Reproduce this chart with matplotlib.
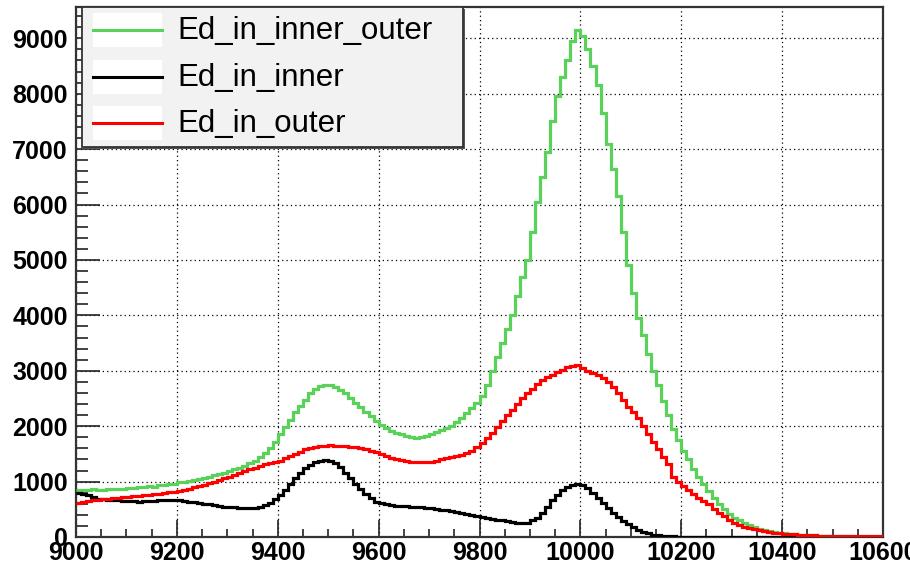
import numpy as np
import matplotlib
matplotlib.use("Agg")
import matplotlib.pyplot as plt
from matplotlib.patches import Rectangle
from matplotlib.lines import Line2D
from matplotlib.ticker import MultipleLocator

# ---- data: histogram bins (10 units wide, from 9000 to 10600) ----
bin_lo = 9000
bin_width = 10

inner_outer = [
    840, 850, 845, 860, 850, 855, 865, 860, 875, 870,
    890, 885, 900, 905, 915, 910, 930, 940, 950, 965,
    990, 1000, 1010, 1030, 1045, 1070, 1085, 1110, 1130, 1160,
    1190, 1220, 1250, 1290, 1330, 1380, 1440, 1520, 1600, 1720,
    1850, 1990, 2120, 2260, 2370, 2480, 2590, 2680, 2720, 2750,
    2740, 2710, 2660, 2590, 2500, 2420, 2340, 2260, 2180, 2090,
    2020, 1960, 1910, 1870, 1850, 1820, 1800, 1790, 1800, 1820,
    1860, 1890, 1930, 1970, 2010, 2070, 2140, 2230, 2320, 2420,
    2550, 2750, 3000, 3250, 3500, 3750, 4000, 4350, 4700, 5000,
    5500, 6050, 6500, 6950, 7500, 7950, 8300, 8600, 8950, 9150,
    9050, 8800, 8500, 8150, 7650, 7100, 6650, 6150, 5500, 4900,
    4400, 3950, 3650, 3300, 3000, 2750, 2450, 2200, 1950, 1750,
    1560, 1400, 1230, 1080, 950, 830, 710, 600, 500, 410,
    350, 300, 250, 210, 180, 150, 130, 110, 95, 80,
    70, 60, 50, 45, 40, 35, 30, 25, 22, 20,
    18, 15, 12, 10, 8, 7, 6, 5, 4, 3,
]

inner = [
    790, 770, 750, 720, 690, 680, 675, 665, 660, 655,
    650, 645, 640, 645, 650, 655, 660, 665, 668, 668,
    665, 655, 640, 625, 610, 600, 590, 575, 560, 550,
    548, 540, 530, 525, 520, 525, 545, 575, 620, 680,
    760, 850, 960, 1060, 1160, 1240, 1300, 1350, 1380, 1390,
    1370, 1330, 1260, 1160, 1060, 960, 860, 770, 700, 630,
    610, 590, 575, 565, 560, 555, 550, 545, 535, 525,
    515, 505, 495, 480, 465, 450, 435, 420, 400, 385,
    360, 345, 330, 315, 300, 285, 270, 260, 255, 258,
    300, 350, 440, 550, 660, 760, 850, 910, 940, 960,
    930, 880, 800, 710, 620, 530, 440, 360, 290, 230,
    175, 130, 95, 65, 45, 30, 20, 15, 10, 8,
    6, 5, 4, 3, 3, 2, 2, 1, 1, 1,
    0, 0, 0, 0, 0, 0, 0, 0, 0, 0,
    0, 0, 0, 0, 0, 0, 0, 0, 0, 0,
    0, 0, 0, 0, 0, 0, 0, 0, 0, 0,
]

outer = [
    610, 630, 650, 660, 670, 680, 690, 700, 705, 715,
    725, 735, 745, 755, 765, 775, 785, 795, 805, 815,
    830, 850, 870, 895, 920, 945, 975, 1000, 1030, 1060,
    1090, 1120, 1150, 1185, 1220, 1250, 1280, 1310, 1340, 1360,
    1380, 1420, 1460, 1500, 1540, 1580, 1610, 1630, 1650, 1650,
    1655, 1650, 1645, 1640, 1630, 1620, 1610, 1590, 1560, 1530,
    1490, 1460, 1430, 1410, 1390, 1370, 1355, 1350, 1345, 1350,
    1360, 1380, 1400, 1420, 1440, 1460, 1480, 1510, 1560, 1620,
    1690, 1780, 1880, 1990, 2100, 2200, 2300, 2400, 2500, 2590,
    2680, 2760, 2830, 2880, 2930, 2980, 3020, 3060, 3080, 3100,
    3050, 3000, 2960, 2920, 2870, 2800, 2700, 2600, 2480, 2350,
    2250, 2150, 2000, 1860, 1720, 1580, 1450, 1320, 1080, 990,
    920, 850, 780, 710, 650, 590, 510, 440, 370, 300,
    250, 215, 185, 160, 140, 120, 105, 90, 80, 70,
    62, 55, 48, 42, 38, 34, 30, 27, 25, 23,
    21, 19, 18, 16, 15, 14, 13, 12, 11, 10,
]

series_names = ["Ed_in_inner_outer", "Ed_in_inner", "Ed_in_outer"]
series_values = [inner_outer, inner, outer]
series_colors = ["#5ad25a", "#000000", "#ff0000"]

x_ticks = [9000, 9200, 9400, 9600, 9800, 10000, 10200, 10400, 10600]
y_ticks = [0, 1000, 2000, 3000, 4000, 5000, 6000, 7000, 8000, 9000]

# ---- figure ----
W, H = 910, 570
fig = plt.figure(figsize=(W / 100, H / 100), dpi=100)
plt.rcParams['font.family'] = ['Liberation Sans', 'DejaVu Sans']

L, R, T, B = 76, 883, 7, 537
ax = fig.add_axes([L / W, (H - B) / H, (R - L) / W, (B - T) / H])

n = len(inner_outer)
edges = bin_lo + bin_width * np.arange(n + 1)
for vals, col in zip(series_values, series_colors):
    ax.stairs(vals, edges, color=col, linewidth=2.3, baseline=None, zorder=3)

ax.set_xlim(9000, 10600)
ax.set_ylim(0, 9565)
ax.set_xticks(x_ticks)
ax.set_yticks(y_ticks)
ax.set_xticklabels([str(v) for v in x_ticks])
ax.set_yticklabels([str(v) for v in y_ticks])
ax.xaxis.set_minor_locator(MultipleLocator(50))
ax.yaxis.set_minor_locator(MultipleLocator(200))

ax.tick_params(axis='y', which='major', direction='in', length=17, width=1.2,
               pad=6.0, labelsize=18, color='#222222')
ax.tick_params(axis='y', which='minor', direction='in', length=8.6, width=1.2,
               color='#222222')
ax.tick_params(axis='x', which='major', direction='in', length=12, width=1.2,
               pad=3.0, labelsize=18, color='#222222')
ax.tick_params(axis='x', which='minor', direction='in', length=6, width=1.2,
               color='#222222')
for lab in ax.get_xticklabels() + ax.get_yticklabels():
    lab.set_fontweight('bold')
ax.tick_params(top=False, right=False)

ax.grid(True, which='major', color='black', linestyle=(0, (1, 2.5)), linewidth=0.9, zorder=1)
ax.set_axisbelow(True)
for sp in ax.spines.values():
    sp.set_linewidth(1.6)
    sp.set_color('#333333')

# ---- legend (ROOT style) ----
ov = fig.add_axes([0, 0, 1, 1], facecolor='none')
ov.set_xlim(0, W)
ov.set_ylim(H, 0)
ov.axis('off')
ov.add_patch(Rectangle((84, 9), 381, 140, facecolor='#555555', edgecolor='none', zorder=5))
ov.add_patch(Rectangle((82, 7), 381, 140, facecolor='#f2f2f2', edgecolor='#333333',
                       linewidth=1.3, zorder=6))
row_y = [30, 77, 123]
for name, col, yy in zip(series_names, series_colors, row_y):
    ov.add_patch(Rectangle((93, yy - 17), 69, 34, facecolor='white', edgecolor='none', zorder=7))
    ov.add_line(Line2D([93, 162], [yy, yy], color=col, linewidth=2.2, zorder=8))
    ov.text(177, yy + 1, name, fontsize=22.5, va='center', ha='left', zorder=9,
            color='black')

fig.savefig("out.png", dpi=100)
